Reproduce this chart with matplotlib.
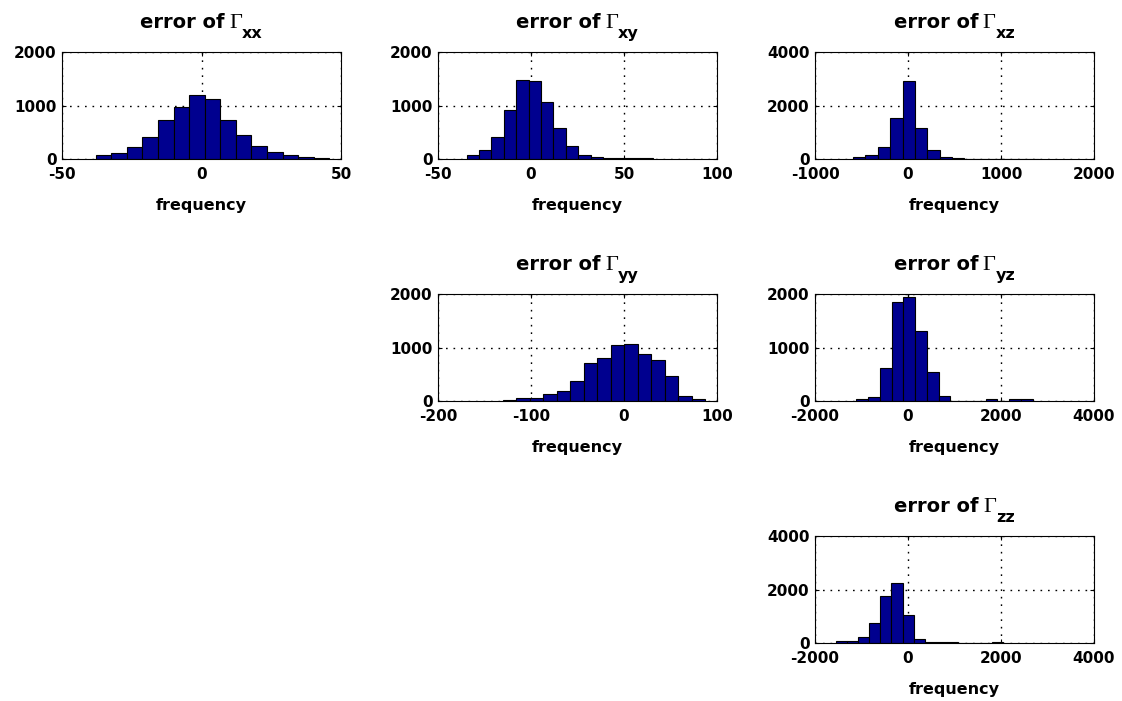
import numpy as np
import matplotlib
matplotlib.use("Agg")
import matplotlib.pyplot as plt
from matplotlib.transforms import IdentityTransform

plt.rcParams['font.family'] = ['DejaVu Sans']
plt.rcParams['font.weight'] = 'bold'
plt.rcParams['axes.unicode_minus'] = False

# histogram counts (15 equal bins each), first bin edge and bin width
xx_counts = [72, 115, 220, 405, 722, 968, 1202, 1120, 722, 452, 246, 122, 72, 40, 28]
xx_start, xx_width = -37.9, 5.58

xy_counts = [72, 160, 402, 915, 1480, 1450, 1065, 585, 252, 72, 32, 22, 20, 18, 15]
xy_start, xy_width = -34.6, 6.67

xz_counts = [70, 140, 435, 1540, 2930, 1150, 320, 66, 25, 6, 4, 3, 2, 3, 2]
xz_start, xz_width = -591, 133

yy_counts = [25, 62, 62, 125, 185, 376, 705, 797, 1047, 1062, 887, 762, 467, 97, 37]
yy_start, yy_width = -130.5, 14.53

yz_counts = [37, 69, 612, 1844, 1944, 1300, 550, 100, 4, 3, 2, 30, 0, 30, 30]
yz_start, yz_width = -1111, 252.7

zz_counts = [85, 85, 212, 752, 1770, 2255, 1045, 162, 55, 37, 30, 2, 2, 2, 45]
zz_start, zz_width = -1556, 240

names = ['xx', 'xy', 'xz', 'yy', 'yz', 'zz']
counts = [xx_counts, xy_counts, xz_counts, yy_counts, yz_counts, zz_counts]
starts = [xx_start, xy_start, xz_start, yy_start, yz_start, zz_start]
widths = [xx_width, xy_width, xz_width, yy_width, yz_width, zz_width]

xlims = [(-50, 50), (-50, 100), (-1000, 2000), (-200, 100), (-2000, 4000), (-2000, 4000)]
xticks = [[-50, 0, 50], [-50, 0, 50, 100], [-1000, 0, 1000, 2000],
          [-200, -100, 0, 100], [-2000, 0, 2000, 4000], [-2000, 0, 2000, 4000]]
yticks = [[0, 1000, 2000], [0, 1000, 2000], [0, 2000, 4000],
          [0, 1000, 2000], [0, 1000, 2000], [0, 2000, 4000]]

W, H = 1122, 701
fig = plt.figure(figsize=(W / 100, H / 100), dpi=100)
renderer = fig.canvas.get_renderer()

col_left = [62, 438, 815]
row_top = [52, 294, 536]
ax_w, ax_h = 279, 107
slots = [(0, 0), (0, 1), (0, 2), (1, 1), (1, 2), (2, 2)]

for i, (r, c) in enumerate(slots):
    ax = fig.add_axes([col_left[c] / W, 1 - (row_top[r] + ax_h) / H, ax_w / W, ax_h / H])
    n = len(counts[i])
    edges = starts[i] + widths[i] * np.arange(n + 1)
    ax.bar(edges[:-1], counts[i], width=widths[i], align='edge',
           color='#00008F', edgecolor='black', linewidth=0.8, zorder=2)
    ax.set_xlim(*xlims[i])
    ax.set_ylim(yticks[i][0], yticks[i][-1])
    ax.set_xticks(xticks[i])
    ax.set_yticks(yticks[i])
    ax.set_axisbelow(True)
    ax.grid(True, color='black', linestyle=(0, (1.2, 4.2)), linewidth=1.0)
    ax.tick_params(direction='in', length=3, width=0.8, top=True, right=True,
                   labelsize=11)
    ax.tick_params(axis='x', pad=6)
    ax.tick_params(axis='y', pad=4)
    for lab in ax.get_xticklabels() + ax.get_yticklabels():
        lab.set_fontweight('bold')
    for sp in ax.spines.values():
        sp.set_linewidth(0.8)
    ax.set_xlabel('frequency', fontsize=11.5, fontweight='bold', labelpad=11)

    # title: "error of" + serif Gamma + lowered subscript, centred on the axes
    cx = col_left[c] + ax_w / 2
    base = H - (row_top[r] - 24)
    t1 = fig.text(0, 0, 'error of', transform=IdentityTransform(),
                  fontsize=14, fontweight='bold', va='baseline')
    t2 = fig.text(0, 0, '\u0393', transform=IdentityTransform(),
                  fontsize=16, family='Liberation Serif', fontweight='normal', va='baseline')
    t3 = fig.text(0, 0, names[i], transform=IdentityTransform(),
                  fontsize=11.5, fontweight='bold', va='baseline')
    w1 = t1.get_window_extent(renderer).width + 4
    w2 = t2.get_window_extent(renderer).width
    w3 = t3.get_window_extent(renderer).width
    x0 = cx - (w1 + w2 + w3) / 2
    t1.set_position((x0, base))
    t2.set_position((x0 + w1, base))
    t3.set_position((x0 + w1 + w2, base - 10))

fig.savefig('out.png', dpi=100, facecolor='white')
